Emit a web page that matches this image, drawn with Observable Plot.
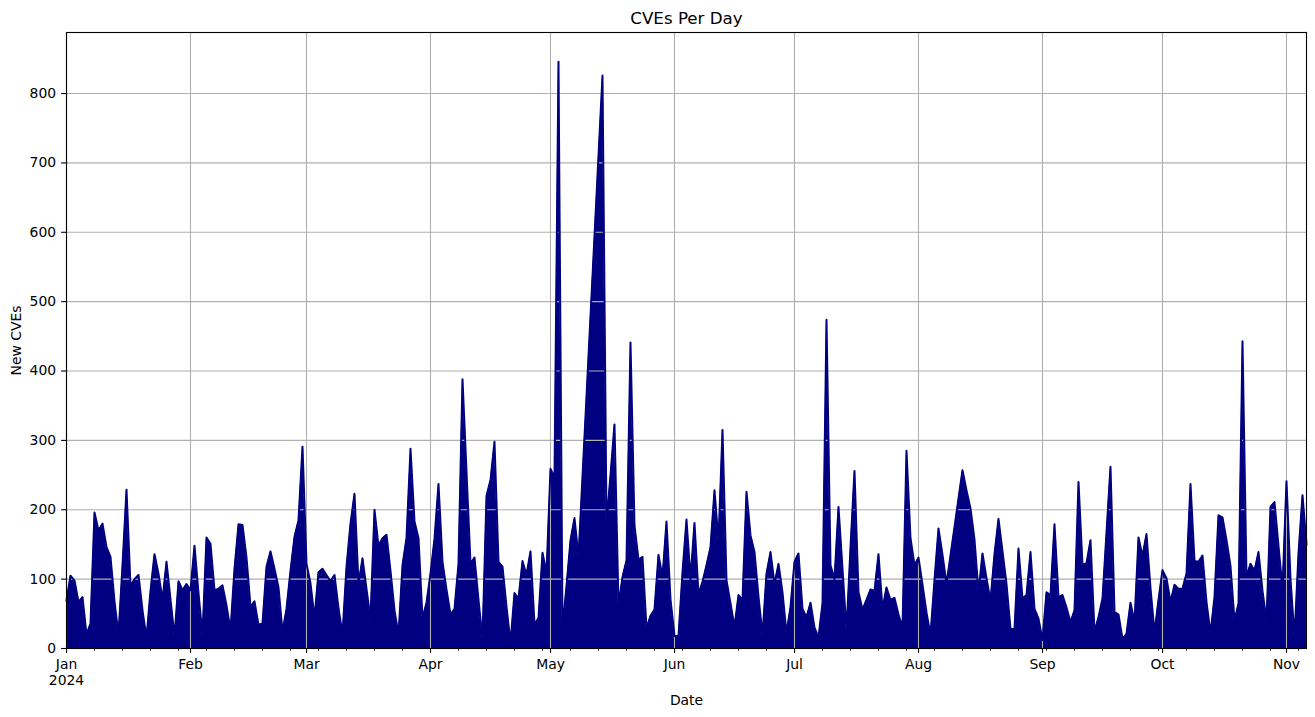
<!DOCTYPE html>
<html>
<head>
<meta charset="utf-8">
<script src="https://cdn.jsdelivr.net/npm/d3@7"></script>
<script src="https://cdn.jsdelivr.net/npm/@observablehq/plot@0.6"></script>
<style>
  body { margin: 0; background: #fff; }
  #chart { width: 1315px; height: 717px; }
</style>
</head>
<body>
<div id="chart"></div>
<script>
// ---- data (new CVEs per day, 2024; null = no data point) ----
const year = 2024;
const monthNames = ["Jan","Feb","Mar","Apr","May","Jun","Jul","Aug","Sep","Oct","Nov"];
const jan = [69,105,98,67,74,20,36,196,170,180,146,132,68,20,120,229,90,100,106,55,15,83,136,108,70,125,71,17,97,84,93];
const feb = [84,148,80,19,160,151,84,86,91,62,26,115,179,178,131,60,68,34,36,118,140,115,88,24,57,112,161,185,291];
const mar = [122,94,44,110,115,106,97,106,58,20,118,180,223,93,130,86,43,200,148,159,164,112,55,20,120,159,288,183,159,43,66];
const apr = [108,158,237,125,85,49,57,122,388,255,122,131,70,14,220,243,298,125,118,60,8,80,72,126,106,140,35,44,138,109];
const may = [259,247,846,29,90,156,188,132,null,null,null,null,null,826,180,250,323,62,103,127,441,177,128,132,29,47,56,135,103,183,71];
const jun = [18,18,110,186,100,181,78,96,120,146,228,154,315,98,65,31,77,70,226,163,139,75,19,108,139,93,122,81,22,60];
const jul = [125,137,57,45,66,30,16,65,474,120,100,204,115,26,146,256,81,56,70,85,83,136,57,88,70,73,49,30,285,159,120];
const aug = [131,92,52,19,99,173,135,93,null,null,null,257,228,202,157,81,137,101,69,136,187,140,93,28,28,144,72,77,139,57,43];
const sep = [12,81,77,179,74,77,59,38,55,240,120,123,156,24,45,72,null,262,53,49,14,21,66,38,160,133,165,87,23,70];
const oct = [113,101,67,92,86,86,108,237,126,125,134,67,22,74,192,189,156,119,40,65,443,103,122,112,139,83,40,204,211,148,86];
const nov = [241,100,16,137,221,150];
const monthValues = [jan, feb, mar, apr, may, jun, jul, aug, sep, oct, nov];
const yTicks = [0,100,200,300,400,500,600,700,800];
const titleText = "CVEs Per Day";
const xLabel = "Date";
const yLabel = "New CVEs";

// ---- build table ----
const data = [];
monthValues.forEach((vals, m) => vals.forEach((v, i) => {
  if (v != null) data.push({date: new Date(Date.UTC(year, m, i + 1)), value: v});
}));
const monthStarts = monthNames.map((_, m) => new Date(Date.UTC(year, m, 1)));
const xStart = new Date(Date.UTC(year, 0, 1));
const xEnd = data[data.length - 1].date;
const mondays = d3.utcMonday.range(xStart, new Date(+xEnd + 1));
const fmtMonth = d => {
  const m = monthNames[d.getUTCMonth()];
  return d.getUTCMonth() === 0 ? m + "\n" + d.getUTCFullYear() : m;
};

const font = "DejaVu Sans, Verdana, sans-serif";
const navy = "#000080";
const gridColor = "#b0b0b0";

const chart = Plot.plot({
  width: 1315,
  height: 717,
  marginLeft: 66,
  marginRight: 9,
  marginTop: 32,
  marginBottom: 69,
  style: {fontFamily: font, fontSize: "13.9px", color: "black", background: "white", overflow: "visible"},
  x: {type: "utc", domain: [xStart, xEnd]},
  y: {domain: [0, 888]},
  marks: [
    Plot.areaY(data, {x: "date", y: "value", fill: navy}),
    Plot.gridX({ticks: monthStarts, stroke: gridColor, strokeOpacity: 1, strokeWidth: 1.1}),
    Plot.gridY({ticks: yTicks, stroke: gridColor, strokeOpacity: 1, strokeWidth: 1.1}),
    Plot.lineY(data, {x: "date", y: "value", stroke: navy, strokeWidth: 2}),
    Plot.frame({stroke: "black", strokeWidth: 1.1}),
    Plot.axisX({ticks: mondays, tickSize: 2.8, tickFormat: () => "", label: null, strokeWidth: 0.85}),
    Plot.axisX({ticks: monthStarts, tickSize: 4.9, tickPadding: 4.5, tickFormat: fmtMonth, label: null, lineHeight: 1.13, strokeWidth: 1.1, fill: "black"}),
    Plot.axisY({ticks: yTicks, tickSize: 4.9, tickPadding: 5.5, label: null, strokeWidth: 1.1, fill: "black"}),
    Plot.text([titleText], {frameAnchor: "top", dy: -14, lineAnchor: "middle", fontSize: 16.7, fill: "black"}),
    Plot.text([xLabel], {frameAnchor: "bottom", dy: 52, lineAnchor: "middle", fontSize: 13.9, fill: "black"}),
    Plot.text([yLabel], {frameAnchor: "left", dx: -50, rotate: -90, textAnchor: "middle", lineAnchor: "middle", fontSize: 13.9, fill: "black"})
  ]
});
document.getElementById("chart").appendChild(chart);
</script>
</body>
</html>
